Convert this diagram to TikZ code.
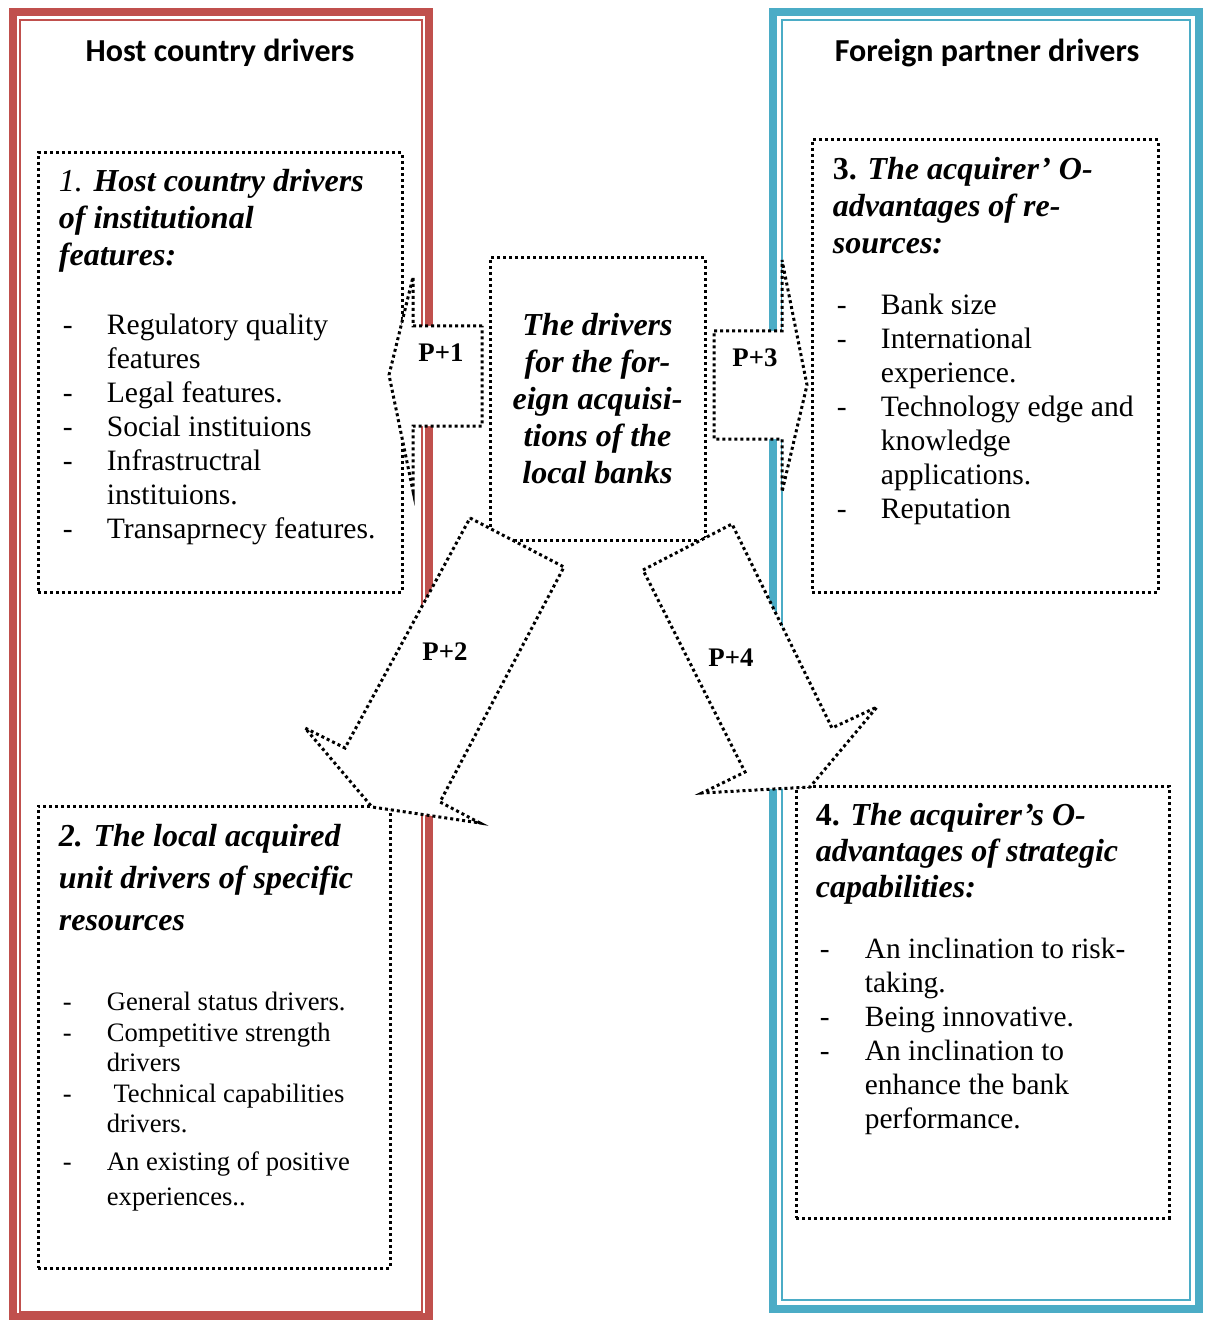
\documentclass[tikz,border=0pt]{standalone}
\usepackage{fontspec}
\setmainfont{Liberation Serif}
\newfontfamily\titlefont{Carlito}
\usepackage{tikz}
\usetikzlibrary{positioning}
\definecolor{hostred}{RGB}{192,80,77}
\definecolor{partnerblue}{RGB}{75,172,198}

\begin{document}
\begin{tikzpicture}[
  x=0.5pt, y=-0.5pt,
  outerframe/.style={line width=4pt},
  innerframe/.style={line width=1pt},
  dotbox/.style={rectangle, draw=black, fill=white, line width=1.5pt,
                 dash pattern=on 1.5pt off 1.5pt, inner sep=0pt},
  blockarrow/.style={draw=black, fill=white, line width=1.5pt,
                     dash pattern=on 1.5pt off 1.5pt, line join=miter},
  sidetitle/.style={font=\titlefont\bfseries\fontsize{16}{19}\selectfont,
                    inner sep=0pt, anchor=base},
  headtext/.style={font=\bfseries\itshape\fontsize{16}{18.5}\selectfont,
                   inner sep=0pt, anchor=base west},
  listtext/.style={font=\fontsize{14.8}{17}\selectfont,
                   inner sep=0pt, anchor=base west},
  plabel/.style={font=\bfseries\fontsize{13.4}{16}\selectfont,
                 inner sep=0pt, anchor=base},
]
\useasboundingbox (0,0) rectangle (1208,1320);

% Frames
\draw[hostred, outerframe] (12.5,12) rectangle (429,1317);
\draw[hostred, innerframe] (20,20) rectangle (421.5,1312);
\draw[partnerblue, outerframe] (773,12) rectangle (1199,1309);
\draw[partnerblue, innerframe] (782,20) rectangle (1190,1300);

\node[sidetitle] (hosttitle) at (220,62) {Host country drivers};
\node[sidetitle] (partnertitle) at (987,62) {Foreign partner drivers};

% Driver boxes
\node[dotbox, minimum width=182pt, minimum height=219.5pt] (hostinst) at (220,372.5) {};
\node[dotbox, minimum width=176pt, minimum height=231pt] (localunit) at (214,1037) {};
\node[dotbox, minimum width=173pt, minimum height=226pt] (acqres) at (985,366) {};
\node[dotbox, minimum width=186.5pt, minimum height=216pt] (acqcap) at (982.5,1002) {};
\node[dotbox, minimum width=107.5pt, minimum height=141pt] (hub) at (597.5,399) {};

% Box 1
\node[headtext] (hostinsthead) at ([xshift=11pt, yshift=-20pt]hostinst.north west)
  {\begin{tabular}[t]{@{}l@{}}
   {\mdseries 1.} Host country drivers\\
   of institutional\\
   features:
   \end{tabular}};
\node[listtext] (hostinstlist) at ([xshift=13pt, yshift=-91.5pt]hostinst.north west)
  {\begin{tabular}[t]{@{}p{22pt}@{}l@{}}
   - & Regulatory quality\\
     & features\\
   - & Legal features.\\
   - & Social instituions\\
   - & Infrastructral\\
     & instituions.\\
   - & Transaprnecy features.
   \end{tabular}};

% Box 2
\node[headtext, font=\bfseries\itshape\fontsize{16}{21}\selectfont] (localunithead)
  at ([xshift=11pt, yshift=-21pt]localunit.north west)
  {\begin{tabular}[t]{@{}l@{}}
   2. The local acquired\\
   unit drivers of specific\\
   resources
   \end{tabular}};
\node[listtext, font=\fontsize{13.3}{15.25}\selectfont] (localunitlist)
  at ([xshift=13pt, yshift=-103pt]localunit.north west)
  {\begin{tabular}[t]{@{}p{22pt}@{}l@{}}
   - & General status drivers.\\
   - & Competitive strength\\
     & drivers\\
   - & \ Technical capabilities\\
     & drivers.\\[3.75pt]
   - & An existing of positive\\[2.25pt]
     & experiences..
   \end{tabular}};

% Box 3
\node[headtext] (acqreshead) at ([xshift=11pt, yshift=-20.5pt]acqres.north west)
  {\begin{tabular}[t]{@{}l@{}}
   {\upshape 3.} The acquirer’ O-\\
   advantages of re-\\
   sources:
   \end{tabular}};
\node[listtext] (acqreslist) at ([xshift=13pt, yshift=-88pt]acqres.north west)
  {\begin{tabular}[t]{@{}p{22pt}@{}l@{}}
   - & Bank size\\
   - & International\\
     & experience.\\
   - & Technology edge and\\
     & knowledge\\
     & applications.\\
   - & Reputation
   \end{tabular}};

% Box 4
\node[headtext, font=\bfseries\itshape\fontsize{16}{18}\selectfont] (acqcaphead)
  at ([xshift=10.5pt, yshift=-20.5pt]acqcap.north west)
  {\begin{tabular}[t]{@{}l@{}}
   {\upshape 4.} The acquirer’s O-\\
   advantages of strategic\\
   capabilities:
   \end{tabular}};
\node[listtext, font=\fontsize{14.7}{17}\selectfont] (acqcaplist)
  at ([xshift=12.5pt, yshift=-87pt]acqcap.north west)
  {\begin{tabular}[t]{@{}p{22.5pt}@{}l@{}}
   - & An inclination to risk-\\
     & taking.\\
   - & Being innovative.\\
   - & An inclination to\\
     & enhance the bank\\
     & performance.
   \end{tabular}};

% Centre box
\node[headtext, font=\bfseries\itshape\fontsize{16}{18.5}\selectfont, anchor=base]
  (hubtext) at ([yshift=-39.5pt]hub.north)
  {\begin{tabular}[t]{@{}c@{}}
   The drivers\\
   for the for-\\
   eign acquisi-\\
   tions of the\\
   local banks
   \end{tabular}};

% Block arrows
\draw[blockarrow] (482,326) -- (413,326) -- (413,277) -- (389,375) -- (413,491)
  -- (413,426) -- (482,426) -- cycle;
\draw[blockarrow] (714,331) -- (782,331) -- (782,260) -- (807,385) -- (782,492)
  -- (782,439) -- (714,439) -- cycle;
\draw[blockarrow] (470,518) -- (564,567) -- (440,802) -- (480,823) -- (372,807)
  -- (305,728) -- (345,748) -- cycle;
\draw[blockarrow] (643,570) -- (732,524) -- (832,728) -- (877,707) -- (810,787)
  -- (702,793) -- (745,772) -- cycle;

\node[plabel] (p1) at (441,362) {P+1};
\node[plabel] (p3) at (755,367) {P+3};
\node[plabel] (p2) at (445,660) {P+2};
\node[plabel] (p4) at (731,666) {P+4};

\end{tikzpicture}
\end{document}
